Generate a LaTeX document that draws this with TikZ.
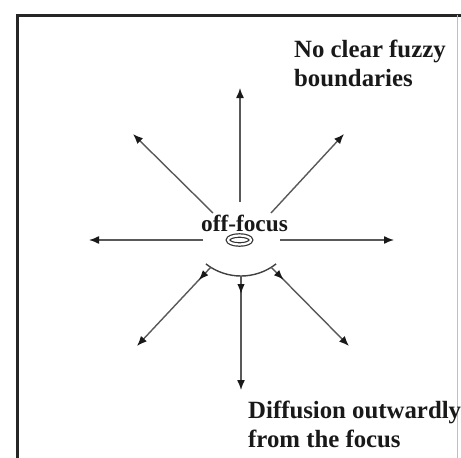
\documentclass[tikz,border=0pt]{standalone}
\usepackage{fontspec}
\setmainfont{Liberation Serif}
\usetikzlibrary{arrows.meta,decorations.markings,shapes.geometric}
\tikzset{
  ray/.style={draw=black!65, line width=1.4pt, -{Latex[length=10pt,width=8pt,color=black!90]}},
  midtip/.style={postaction={decorate}, decoration={markings, mark=at position #1 with {\arrow{Latex[length=10pt,width=7.5pt,color=black!90]}}}},
  txt/.style={font=\bfseries\fontsize{24.8}{29}\selectfont, inner sep=0pt, align=left, text=black!90},
  frame/.style={line width=3pt, draw=black!85}
}
\begin{document}
\begin{tikzpicture}[x=1pt,y=1pt]
\useasboundingbox (0,0) rectangle (461,-458);
\fill[white] (0,0) rectangle (461,-458);
% frame
\draw[frame] (17,-470) -- (17,-15) -- (470,-15);
\draw[black!25, line width=0.8pt] (457.5,-15) -- (457.5,-470);
% texts
\node[txt, anchor=north west] (top) at (294,-40) {No clear fuzzy\\boundaries};
\node[txt, anchor=north west] (bot) at (248,-401) {Diffusion outwardly\\from the focus};
\node[txt, font=\bfseries\fontsize{23.3}{28}\selectfont, anchor=base] (focus) at (244.5,-231.5) {off-focus};
% focus ring
\node[draw=black!80, line width=1.2pt, double, double distance=2.2pt, ellipse, minimum width=23pt, minimum height=9pt, inner sep=0pt] (ring) at (239.5,-240) {};
% outward rays
\coordinate (uS) at (240,-202);   \coordinate (uE) at (240,-88);
\coordinate (lS) at (203,-240);   \coordinate (lE) at (89,-240);
\coordinate (rS) at (280,-240);   \coordinate (rE) at (394,-240);
\coordinate (ulS) at (213,-213);  \coordinate (ulE) at (133,-134);
\coordinate (urS) at (271,-213);  \coordinate (urE) at (344,-134);
\draw[ray] (uS) -- (uE);
\draw[ray] (lS) -- (lE);
\draw[ray] (rS) -- (rE);
\draw[ray] (ulS) -- (ulE);
\draw[ray] (urS) -- (urE);
% lower arc
\coordinate (arcC) at (241,-219);
\draw[draw=black!75, line width=1.4pt] (arcC) ++(232:57) coordinate (aL) arc (232:308:57) coordinate (aR);
\coordinate (dS) at (241,-276);  \coordinate (dE) at (241,-390);
\coordinate (dlS) at (211,-267); \coordinate (dlE) at (137,-346);
\coordinate (drS) at (271,-267); \coordinate (drE) at (349,-346);
\draw[ray, midtip=18pt] (dS) -- (dE);
\draw[ray, midtip=18pt] (dlS) -- (dlE);
\draw[ray, midtip=18pt] (drS) -- (drE);
\end{tikzpicture}
\end{document}
